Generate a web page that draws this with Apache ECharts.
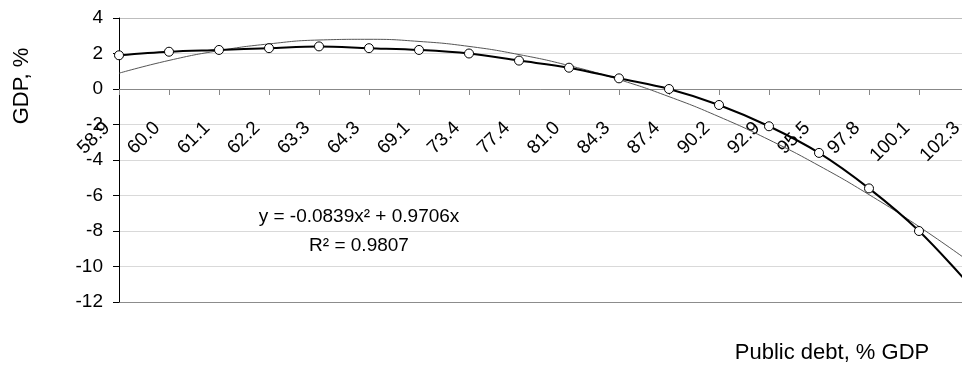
<!DOCTYPE html>
<html>
<head>
<meta charset="utf-8">
<script src="https://cdn.jsdelivr.net/npm/echarts@6.0.0/dist/echarts.min.js"></script>
<style>
  html, body { margin: 0; padding: 0; background: #fff; }
  #chart { width: 962px; height: 365px; }
</style>
</head>
<body>
<div id="chart"></div>
<script>
// public debt, % GDP (categories)
var debt = ['58.9', '60.0', '61.1', '62.2', '63.3', '64.3', '69.1', '73.4', '77.4',
  '81.0', '84.3', '87.4', '90.2', '92.9', '95.5', '97.8', '100.1', '102.3'];
// GDP growth, %
var gdp = [1.9, 2.1, 2.2, 2.3, 2.4, 2.3, 2.2, 2.0, 1.6, 1.2, 0.6, 0.0,
  -0.9, -2.1, -3.6, -5.6, -8.0, -11.0];
// polynomial trend line
var trend = [0.89, 1.61, 2.16, 2.54, 2.76, 2.80, 2.68, 2.40, 1.94, 1.32, 0.53, -0.43,
  -1.56, -2.86, -4.32, -5.95, -7.75, -9.71];
var yTicks = { min: -12, max: 4, step: 2 };

var font = "'Liberation Sans', Arial, sans-serif";
var gridTop = 18, gridBottom = 63, chartH = 365;
var plotH = chartH - gridTop - gridBottom;
// shift the category axis up so it sits on y = 0 (labels go with it)
var zeroOffset = -plotH * (0 - yTicks.min) / (yTicks.max - yTicks.min);

var chart = echarts.init(document.getElementById('chart'));

chart.setOption({
  animation: false,
  backgroundColor: '#fff',
  grid: { left: 119, top: gridTop, bottom: gridBottom, right: -7, outerBoundsMode: 'none' },
  xAxis: {
    type: 'category',
    data: debt,
    boundaryGap: false,
    offset: zeroOffset,
    axisLine: { onZero: false, lineStyle: { color: '#888', width: 1 } },
    axisTick: { show: true, length: 6, interval: 0, lineStyle: { color: '#888' } },
    axisLabel: {
      interval: 0, rotate: 45, margin: 24, padding: [0, 17, 0, 0],
      color: '#000', fontSize: 19, fontFamily: font
    },
    splitLine: { show: false }
  },
  yAxis: {
    type: 'value',
    min: yTicks.min, max: yTicks.max, interval: yTicks.step,
    axisLine: { show: true, onZero: false, lineStyle: { color: '#000', width: 1 } },
    axisTick: { show: true, length: 6, lineStyle: { color: '#000' } },
    axisLabel: { color: '#000', fontSize: 19, fontFamily: font, margin: 16 },
    splitLine: {
      show: true,
      lineStyle: {
        color: ['#8c8c8c', '#d9d9d9', '#d9d9d9', '#d9d9d9', '#d9d9d9',
          '#d9d9d9', '#d9d9d9', '#d9d9d9', '#bdbdbd'],
        width: 1
      }
    }
  },
  series: [
    {
      name: 'Trend',
      type: 'line',
      data: trend,
      smooth: 0.5,
      showSymbol: false,
      lineStyle: { color: '#555', width: 1 },
      z: 2
    },
    {
      name: 'GDP',
      type: 'line',
      data: gdp,
      smooth: 0.35,
      symbol: 'circle',
      symbolSize: 9,
      lineStyle: { color: '#000', width: 2 },
      itemStyle: { color: '#fff', borderColor: '#000', borderWidth: 1 },
      z: 3
    }
  ],
  graphic: [
    {
      type: 'text',
      x: 22, y: 86, rotation: Math.PI / 2,
      style: {
        text: 'GDP, %', fill: '#000', font: '22px ' + font,
        align: 'center', verticalAlign: 'middle'
      }
    },
    {
      type: 'text',
      x: 832, y: 353,
      style: {
        text: 'Public debt, % GDP', fill: '#000', font: '22px ' + font,
        align: 'center', verticalAlign: 'middle'
      }
    },
    {
      type: 'text',
      x: 359, y: 231,
      style: {
        text: 'y = -0.0839x² + 0.9706x\nR² = 0.9807',
        fill: '#000', font: '19px ' + font, lineHeight: 29,
        align: 'center', verticalAlign: 'middle'
      }
    }
  ]
});
</script>
</body>
</html>
